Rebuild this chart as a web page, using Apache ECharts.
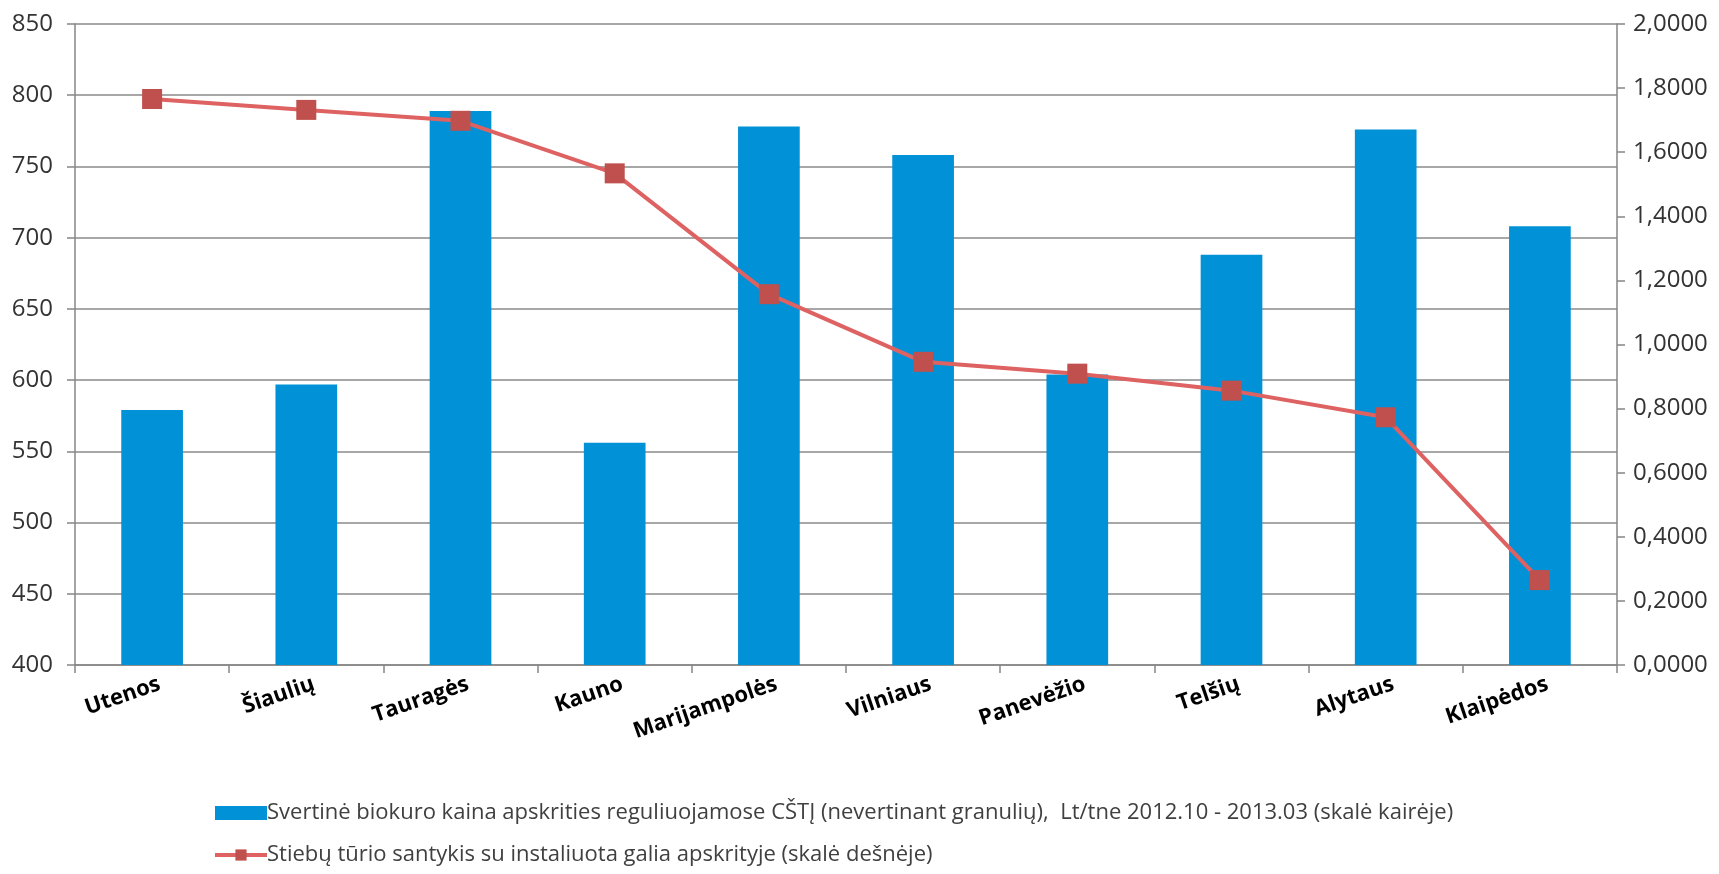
<!DOCTYPE html>
<html>
<head>
<meta charset="utf-8">
<script src="https://cdn.jsdelivr.net/npm/echarts@6/dist/echarts.min.js"></script>
<style>
html,body{margin:0;padding:0;background:#fff;}
#chart{width:1719px;height:874px;}
</style>
</head>
<body>
<div id="chart"></div>
<script>
var categories = ['Utenos','Šiaulių','Tauragės','Kauno','Marijampolės','Vilniaus','Panevėžio','Telšių','Alytaus','Klaipėdos'];
var priceValues = [579, 597, 789, 556, 778, 758, 604, 688, 776, 708];
var ratioValues = [1.766, 1.732, 1.698, 1.534, 1.157, 0.946, 0.909, 0.856, 0.773, 0.265];
var seriesNames = [
  'Svertinė biokuro kaina apskrities reguliuojamose CŠTĮ (nevertinant granulių),  Lt/tne 2012.10 - 2013.03 (skalė kairėje)',
  'Stiebų tūrio santykis su instaliuota galia apskrityje (skalė dešnėje)'
];

var FONT = '"Open Sans", "Noto Sans", sans-serif';
var chart = echarts.init(document.getElementById('chart'), null, {renderer:'canvas'});
chart.setOption({
  animation: false,
  backgroundColor: '#ffffff',
  textStyle: {fontFamily: FONT},
  grid: {left: 75, right: 102, top: 24, bottom: 209, containLabel: false},
  legend: {
    orient: 'vertical',
    left: 208,
    top: 797,
    itemWidth: 52,
    itemHeight: 14,
    itemGap: 20,
    textStyle: {fontFamily: FONT, fontSize: 22, color: '#404040', padding: [0,0,0,-5]},
    data: [
      {name: seriesNames[0], icon: 'rect'},
      {name: seriesNames[1], lineStyle: {width: 4}}
    ]
  },
  xAxis: {
    type: 'category',
    data: categories,
    boundaryGap: true,
    axisLine: {show: true, lineStyle: {color: '#868686', width: 1.5}},
    axisTick: {show: true, length: 8, lineStyle: {color: '#868686', width: 1.5}},
    axisLabel: {
      rotate: 19, margin: 21, interval: 0, padding: [0, -8, 0, 0],
      fontFamily: FONT, fontSize: 22, fontWeight: 'bold', color: '#000'
    },
    splitLine: {show: false}
  },
  yAxis: [
    {
      type: 'value', min: 400, max: 850, interval: 50, position: 'left',
      axisLine: {show: true, lineStyle: {color: '#868686', width: 1.5}},
      axisTick: {show: true, length: 8, lineStyle: {color: '#868686', width: 1.5}},
      axisLabel: {margin: 22, fontFamily: FONT, fontSize: 24, color: '#333'},
      splitLine: {show: true, lineStyle: {color: '#8a8a8a', width: 1.5}}
    },
    {
      type: 'value', min: 0, max: 2, interval: 0.2, position: 'right',
      axisLine: {show: true, lineStyle: {color: '#868686', width: 1.5}},
      axisTick: {show: true, length: 8, lineStyle: {color: '#868686', width: 1.5}},
      axisLabel: {
        margin: 16, fontFamily: FONT, fontSize: 24, color: '#333',
        formatter: function (v) { return v.toFixed(4).replace('.', ','); }
      },
      splitLine: {show: false}
    }
  ],
  series: [
    {
      name: seriesNames[0],
      type: 'bar',
      yAxisIndex: 0,
      data: priceValues,
      barCategoryGap: '60%',
      itemStyle: {color: '#0091D6'},
      z: 2
    },
    {
      name: seriesNames[1],
      type: 'line',
      yAxisIndex: 1,
      data: ratioValues,
      symbol: 'rect',
      symbolSize: 20,
      lineStyle: {color: '#DE6262', width: 4},
      itemStyle: {color: '#C0504D'},
      z: 3
    }
  ]
});
</script>
</body>
</html>
